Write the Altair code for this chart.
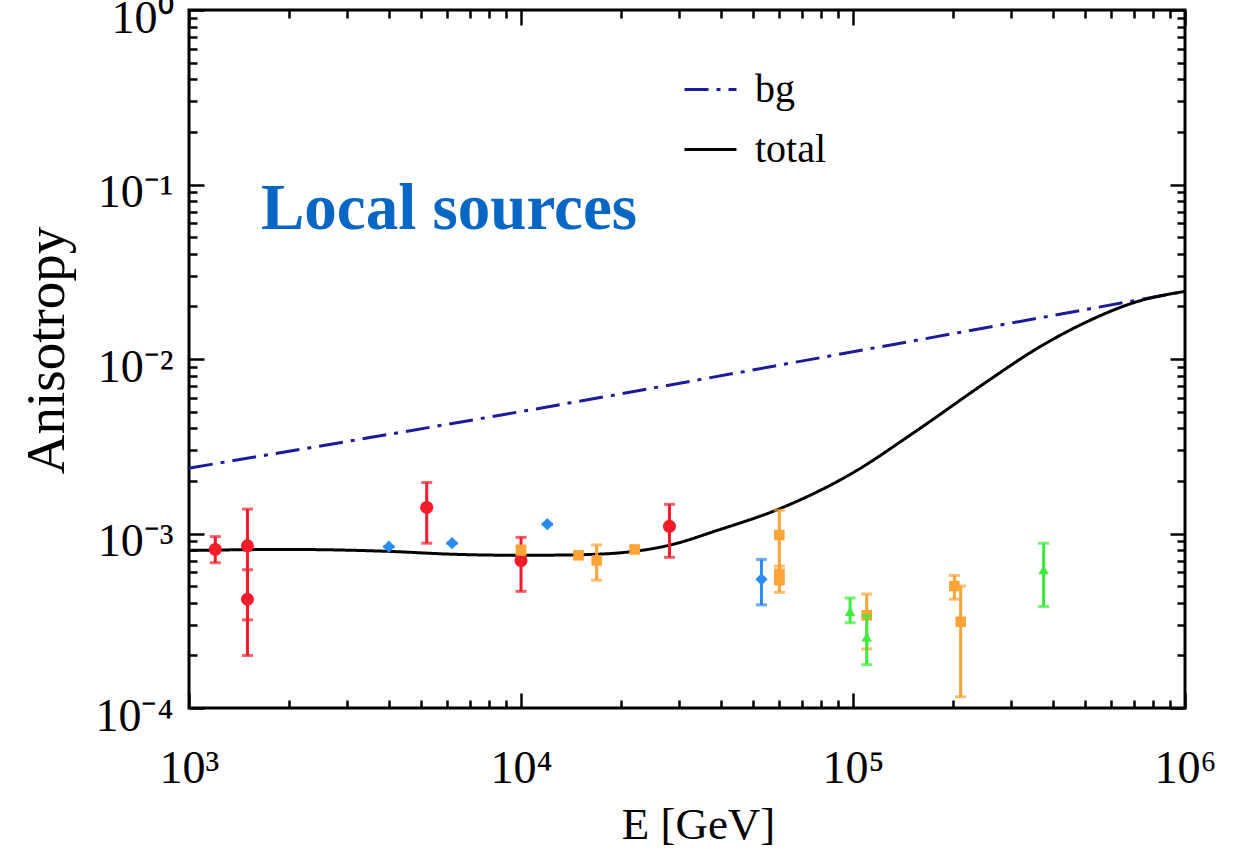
import altair as alt
import pandas as pd

# ---------------- data ----------------
bg_E = [1e3, 1e4, 1e5, 1e6]
bg_A = [2.37e-3, 5.0e-3, 1.1e-2, 2.44e-2]

tot_E = [1000, 2000, 4000, 6300, 10000, 14800, 21900, 28200, 38900, 60300,
         98000, 156000, 250000, 356000, 505000, 716000, 1000000]
tot_A = [8.0e-4, 8.1e-4, 7.9e-4, 7.6e-4, 7.5e-4, 7.55e-4, 7.9e-4, 8.6e-4, 1.04e-3, 1.39e-3,
         2.18e-3, 3.9e-3, 7.3e-3, 1.14e-2, 1.63e-2, 2.13e-2, 2.44e-2]

red_E = [1200, 1500, 1500, 5200, 10000, 28000]
red_A = [8.1e-4, 8.5e-4, 4.2e-4, 1.41e-3, 7.0e-4, 1.1e-3]
red_lo = [6.8e-4, 3.2e-4, 2.0e-4, 8.8e-4, 4.66e-4, 7.3e-4]
red_hi = [9.6e-4, 1.38e-3, 6.2e-4, 1.96e-3, 9.5e-4, 1.47e-3]

blue_E = [4000, 6200, 12000, 53000]
blue_A = [8.4e-4, 8.8e-4, 1.13e-3, 5.46e-4]
blue_lo = [8.4e-4, 8.8e-4, 1.13e-3, 3.9e-4]
blue_hi = [8.4e-4, 8.8e-4, 1.13e-3, 7.1e-4]

orange_E = [10000, 14900, 16900, 22000, 60000, 60000, 60000, 110000, 202000, 211000]
orange_A = [8.0e-4, 7.5e-4, 7.0e-4, 8.1e-4, 9.8e-4, 5.8e-4, 5.4e-4, 3.4e-4, 5.0e-4, 3.12e-4]
orange_lo = [7.6e-4, 7.2e-4, 5.4e-4, 7.8e-4, 6.2e-4, 5.2e-4, 4.6e-4, 2.18e-4, 4.2e-4, 1.16e-4]
orange_hi = [8.5e-4, 7.8e-4, 8.6e-4, 8.4e-4, 1.36e-3, 6.5e-4, 5.8e-4, 4.5e-4, 5.75e-4, 5.0e-4]

green_E = [98000, 110000, 375000]
green_A = [3.58e-4, 2.55e-4, 6.2e-4]
green_lo = [3.08e-4, 1.77e-4, 3.82e-4]
green_hi = [4.27e-4, 3.39e-4, 8.8e-4]

x_major = [1e3, 1e4, 1e5, 1e6]
y_major = [1e-4, 1e-3, 1e-2, 1e-1, 1e0]
x_minor = [k * 10 ** d for d in (3, 4, 5) for k in range(2, 10)]
y_minor = [k * 10.0 ** d for d in (-4, -3, -2, -1) for k in range(2, 10)]

annotation = ["Local sources"]
series_names = ["bg", "total"]

# ---------------- layout ----------------
W, H = 996, 698
FONT = "Liberation Serif"

xs = alt.Scale(type="log", domain=[1e3, 1e6], nice=False)
ys = alt.Scale(type="log", domain=[1e-4, 1e0], nice=False)

def tick_axis(orient, values, size, offset):
    return alt.Axis(orient=orient, values=values, tickSize=size, offset=offset,
                    labels=False, domain=False, grid=False, title=None,
                    tickColor="black", tickWidth=2.5)

x_lab = alt.Axis(orient="bottom", values=x_major, ticks=False, domain=False, grid=False,
                 labelExpr="'10' + ['⁰','¹','²','³','⁴','⁵','⁶'][round(log(datum.value)/LN10)]",
                 labelFont=FONT, labelFontSize=46, labelColor="black", labelPadding=38,
                 labelFlush=False, labelOverlap=False,
                 title="E [GeV]", titleFont=FONT, titleFontSize=45, titleFontWeight="normal",
                 titleColor="black", titleX=509, titleY=130, titleBaseline="alphabetic",
                 titleAlign="center", titleAnchor="start")
y_lab = alt.Axis(orient="left", values=y_major, ticks=False, domain=False, grid=False,
                 labelExpr="'10' + ['⁰','⁻¹','⁻²','⁻³','⁻⁴'][round(-log(datum.value)/LN10)]",
                 labelFont=FONT, labelFontSize=46, labelColor="black", labelPadding=16,
                 labelOffset=8, labelFlush=False, labelOverlap=False,
                 title="Anisotropy", titleFont=FONT, titleFontSize=55, titleFontWeight="normal",
                 titleColor="black", titleAngle=270, titleX=-126, titleY=340,
                 titleBaseline="alphabetic", titleAlign="center", titleAnchor="start")

x_maj_bot = tick_axis("top", x_major, 15, -H)
x_min_bot = tick_axis("top", x_minor, 8, -H)
x_maj_top = tick_axis("bottom", x_major, 15, -H)
x_min_top = tick_axis("bottom", x_minor, 8, -H)
y_maj_left = tick_axis("right", y_major, 15, -W)
y_min_left = tick_axis("right", y_minor, 8, -W)
y_maj_right = tick_axis("left", y_major, 15, -W)
y_min_right = tick_axis("left", y_minor, 8, -W)

# ---------------- lines ----------------
lines_df = pd.concat([
    pd.DataFrame({"E": bg_E, "A": bg_A, "S": series_names[0]}),
    pd.DataFrame({"E": tot_E, "A": tot_A, "S": series_names[1]}),
])
leg = alt.Legend(orient="none", legendX=494, legendY=52, title=None, symbolType="stroke",
                 symbolSize=2700, symbolStrokeWidth=3, labelFont=FONT, labelFontSize=40,
                 labelColor="black", labelOffset=17, rowPadding=12, padding=0)
lines = alt.Chart(lines_df).mark_line(strokeWidth=3, interpolate="monotone", clip=True).encode(
    x=alt.X("E:Q", scale=xs, axis=x_lab),
    y=alt.Y("A:Q", scale=ys, axis=y_lab),
    color=alt.Color("S:N", scale=alt.Scale(domain=series_names, range=["#1c1c9a", "black"]), legend=leg),
    strokeDash=alt.StrokeDash("S:N", scale=alt.Scale(domain=series_names, range=[[24, 8, 4, 8], [1, 0]]), legend=leg),
    order=alt.Order("E:Q"),
)

# ---------------- data points ----------------
def make_df(E, A, lo, hi):
    return pd.DataFrame({"E": E, "A": A, "lo": lo, "hi": hi})

sets = [
    (make_df(red_E, red_A, red_lo, red_hi), "#f41c2a", "circle", 170),
    (make_df(blue_E, blue_A, blue_lo, blue_hi), "#2a8cf0", "diamond", 150),
    (make_df(orange_E, orange_A, orange_lo, orange_hi), "#fba335", "square", 110),
    (make_df(green_E, green_A, green_lo, green_hi), "#3cee3c", "triangle-up", 110),
]

axes_for = {
    (0, "rule"): (x_maj_bot, y_maj_left),
    (0, "cap"): (x_min_bot, y_min_left),
    (0, "pt"): (x_maj_top, y_maj_right),
    (1, "pt"): (x_min_top, y_min_right),
}

layers = [lines]
for i, (df, col, shp, sz) in enumerate(sets):
    ax, ay = axes_for.get((i, "rule"), (None, None))
    rule = alt.Chart(df).mark_rule(color=col, strokeWidth=3).encode(
        x=alt.X("E:Q", scale=xs, axis=ax),
        y=alt.Y("lo:Q", scale=ys, axis=ay),
        y2="hi:Q",
    )
    ax, ay = axes_for.get((i, "cap"), (None, None))
    cap_lo = alt.Chart(df).mark_tick(color=col, orient="horizontal", size=11, thickness=3).encode(
        x=alt.X("E:Q", scale=xs, axis=ax),
        y=alt.Y("lo:Q", scale=ys, axis=ay),
    )
    cap_hi = alt.Chart(df).mark_tick(color=col, orient="horizontal", size=11, thickness=3).encode(
        x=alt.X("E:Q", scale=xs, axis=None),
        y=alt.Y("hi:Q", scale=ys, axis=None),
    )
    ax, ay = axes_for.get((i, "pt"), (None, None))
    pts = alt.Chart(df).mark_point(color=col, shape=shp, size=sz, filled=True, opacity=1).encode(
        x=alt.X("E:Q", scale=xs, axis=ax),
        y=alt.Y("A:Q", scale=ys, axis=ay),
    )
    layers += [rule, cap_lo, cap_hi, pts]

label = alt.Chart(pd.DataFrame({"t": annotation})).mark_text(
    font=FONT, fontSize=65, fontWeight="bold", color="#0866c4",
    align="center", baseline="alphabetic").encode(
    text="t:N", x=alt.value(260), y=alt.value(219))
layers.append(label)

chart = alt.layer(*layers).resolve_axis(x="independent", y="independent").properties(
    width=W, height=H,
    padding={"left": 189, "top": 10, "right": 57, "bottom": 140},
    autosize=alt.AutoSizeParams(type="none"),
    background="white",
).configure_view(stroke="black", strokeWidth=3)

chart.save("out.html", embed_options={"renderer": "svg", "actions": False})
